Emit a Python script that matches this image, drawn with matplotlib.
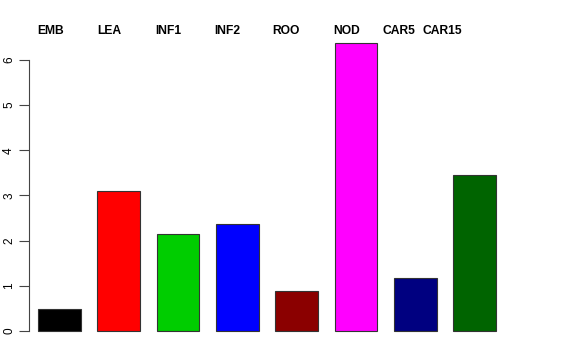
import matplotlib
matplotlib.use("Agg")
import matplotlib.pyplot as plt

plt.rcParams["font.family"] = ["Liberation Sans", "DejaVu Sans"]

labels = ["EMB", "LEA", "INF1", "INF2", "ROO", "NOD", "CAR5", "CAR15"]
values = [0.49, 3.10, 2.15, 2.37, 0.88, 6.37, 1.17, 3.45]
colors = ["black", "red", "#00CD00", "blue", "#8B0000", "magenta", "#000080", "#006400"]
label_x = [51, 109, 168, 227, 286, 347, 399, 442]  # pixel centres of header labels

W, H = 576, 360
fig = plt.figure(figsize=(W / 100, H / 100), dpi=100)
ax = fig.add_axes([29 / W, 20 / H, (505 - 29) / W, 300 / H])

x = list(range(len(values)))
ax.bar(x, values, width=0.72, color=colors, edgecolor="#333333", linewidth=0.8)
ax.set_xlim(-0.514, 7.51)
ax.set_ylim(-0.2, 6.44)

for s in ["top", "right", "bottom"]:
    ax.spines[s].set_visible(False)
ax.spines["left"].set_bounds(0, 6)
ax.spines["left"].set_color("#444444")
ax.set_xticks([])
ax.set_yticks(range(7))
ax.tick_params(axis="y", length=7, width=0.8, color="#444444", pad=3, labelsize=8.5)
for t in ax.get_yticklabels():
    t.set_rotation(90)
    t.set_va("center")

for lx, lab in zip(label_x, labels):
    fig.text(lx / W, 1 - 31 / H, lab, ha="center", va="center",
             fontsize=8.7, fontweight="bold")

fig.savefig("out.png", dpi=100)
